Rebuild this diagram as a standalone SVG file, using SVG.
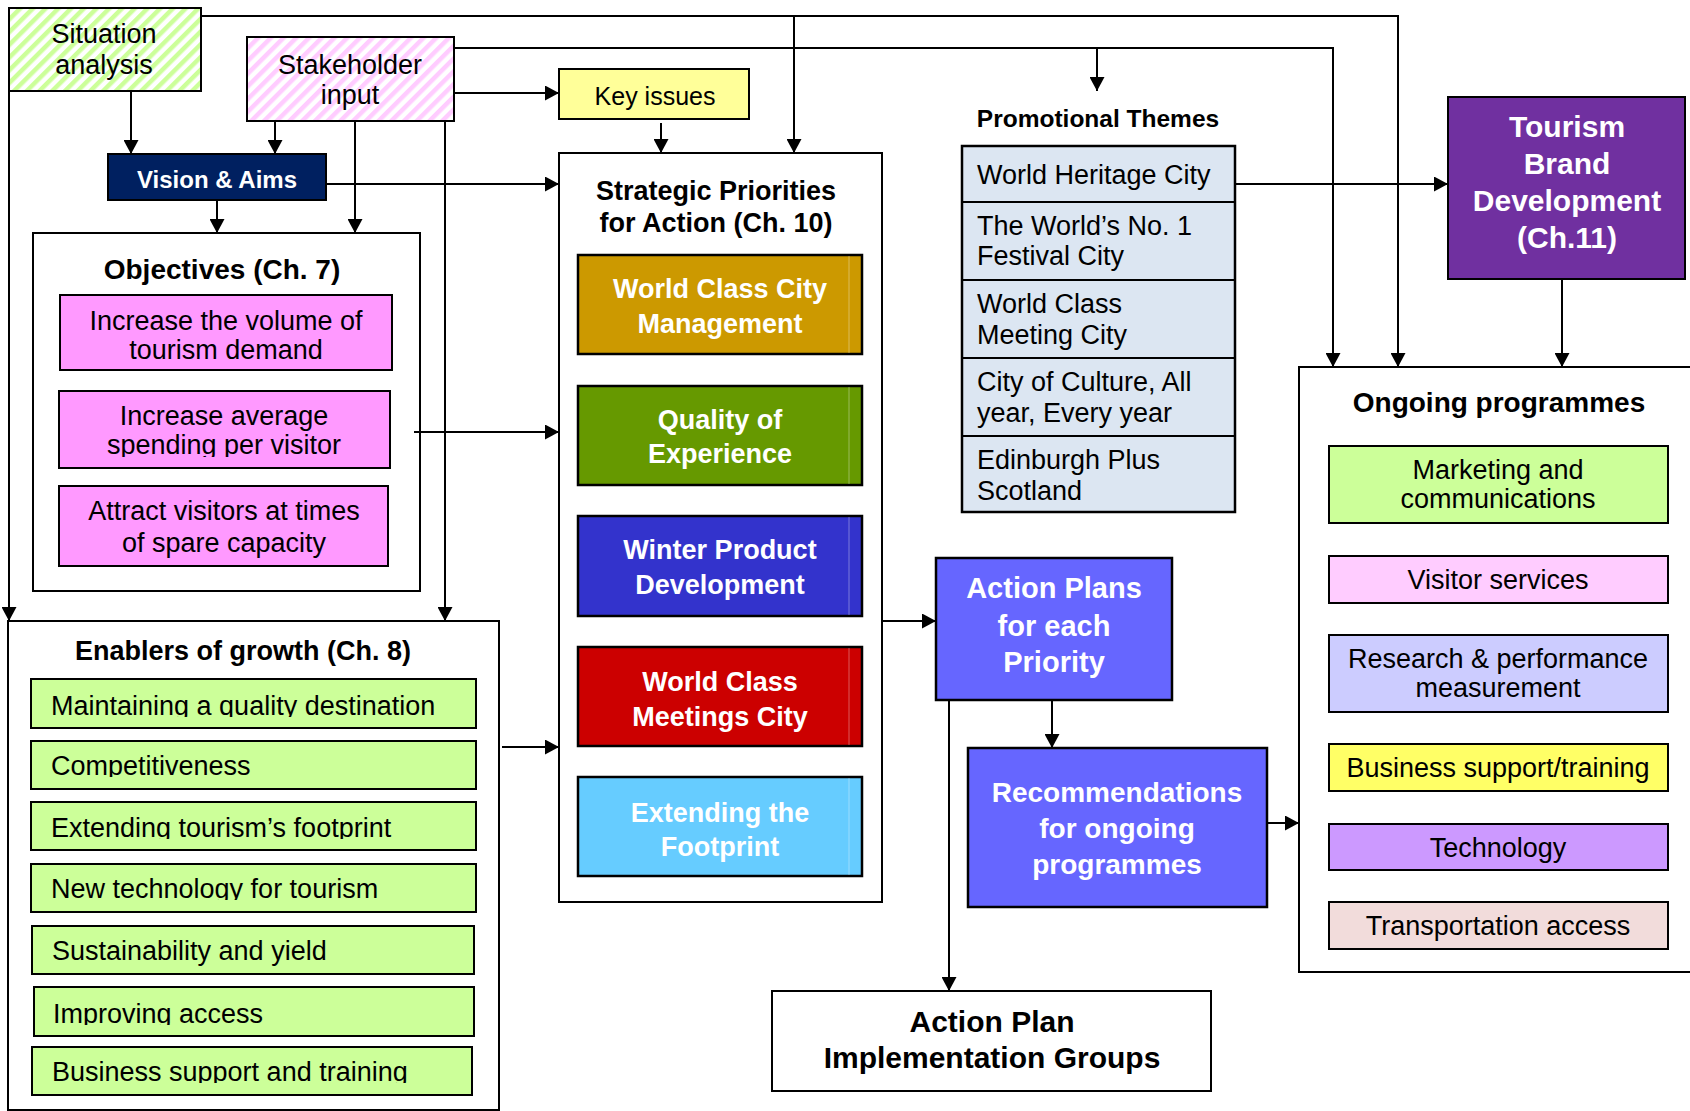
<svg xmlns="http://www.w3.org/2000/svg" width="1690" height="1111" viewBox="0 0 1690 1111">
<style>
.box{fill:#fff;stroke:#000;stroke-width:2}
.t{font-family:"Liberation Sans",Arial,sans-serif;font-size:27px;fill:#000}
.b{font-weight:bold}
.w{fill:#fff}
.c{text-anchor:middle}
.sp{stroke:#000;stroke-width:2.5}
.hl{stroke:#fff;stroke-opacity:0.35;stroke-width:1}
#connectors path{fill:none;stroke:#000;stroke-width:2}
</style>
<defs>
<marker id="ah" markerUnits="userSpaceOnUse" markerWidth="15" markerHeight="15" refX="14" refY="7.5" orient="auto">
<path d="M0,0 L14,7.5 L0,15 z" fill="#000"/>
</marker>
<pattern id="hg" width="9" height="9" patternUnits="userSpaceOnUse" patternTransform="rotate(45)">
<rect width="9" height="9" fill="#fff"/><rect width="4.5" height="9" fill="#CCFF99"/>
</pattern>
<pattern id="hp" width="9" height="9" patternUnits="userSpaceOnUse" patternTransform="rotate(45)">
<rect width="9" height="9" fill="#fff"/><rect width="4.5" height="9" fill="#FFCCFF"/>
</pattern>
<clipPath id="c1"><rect x="0" y="0" width="1690" height="360"/></clipPath>
<clipPath id="c2"><rect x="0" y="0" width="1690" height="457"/></clipPath>
<clipPath id="e1"><rect x="0" y="0" width="1690" height="717"/></clipPath>
<clipPath id="e2"><rect x="0" y="0" width="1690" height="777"/></clipPath>
<clipPath id="e3"><rect x="0" y="0" width="1690" height="839"/></clipPath>
<clipPath id="e4"><rect x="0" y="0" width="1690" height="900"/></clipPath>
<clipPath id="e6"><rect x="0" y="0" width="1690" height="1025"/></clipPath>
<clipPath id="e7"><rect x="0" y="0" width="1690" height="1083"/></clipPath>
</defs>
<rect width="1690" height="1111" fill="#fff"/>

<g id="situation">
<rect x="9" y="8" width="192" height="83" fill="url(#hg)" stroke="#000" stroke-width="2"/>
<text class="t c" x="104" y="43">Situation</text>
<text class="t c" x="104" y="74">analysis</text>
</g>

<g id="stakeholder">
<rect x="247" y="37" width="207" height="84" fill="url(#hp)" stroke="#000" stroke-width="2"/>
<text class="t c" x="350" y="74">Stakeholder</text>
<text class="t c" x="350" y="104">input</text>
</g>

<g id="key-issues">
<rect x="559" y="69" width="190" height="50" fill="#FFFF99" stroke="#000" stroke-width="2"/>
<text class="t c" x="655" y="105" style="font-size:25px">Key issues</text>
</g>

<g id="vision">
<rect x="108" y="154" width="218" height="46" fill="#002060" stroke="#000" stroke-width="2"/>
<text class="t b w c" x="217" y="188" style="font-size:24px">Vision &amp; Aims</text>
</g>

<g id="objectives">
<rect class="box" x="33" y="233" width="387" height="358"/>
<text class="t b c" x="222" y="279" style="font-size:28px">Objectives (Ch. 7)</text>
<rect x="60" y="295" width="332" height="75" fill="#FF99FF" stroke="#000" stroke-width="2"/>
<text class="t c" x="226" y="330">Increase the volume of</text>
<text class="t c" x="226" y="359" clip-path="url(#c1)">tourism demand</text>
<rect x="59" y="391" width="331" height="77" fill="#FF99FF" stroke="#000" stroke-width="2"/>
<text class="t c" x="224" y="425">Increase average</text>
<text class="t c" x="224" y="454" clip-path="url(#c2)">spending per visitor</text>
<rect x="59" y="486" width="329" height="80" fill="#FF99FF" stroke="#000" stroke-width="2"/>
<text class="t c" x="224" y="520">Attract visitors at times</text>
<text class="t c" x="224" y="552">of spare capacity</text>
</g>

<g id="enablers">
<rect class="box" x="8" y="621" width="491" height="489"/>
<text class="t b c" x="243" y="660">Enablers of growth (Ch. 8)</text>
<rect x="31" y="679" width="445" height="49" fill="#CCFF99" stroke="#000" stroke-width="2"/>
<text class="t" x="51" y="715" clip-path="url(#e1)">Maintaining a quality destination</text>
<rect x="31" y="741" width="445" height="48" fill="#CCFF99" stroke="#000" stroke-width="2"/>
<text class="t" x="51" y="775" clip-path="url(#e2)">Competitiveness</text>
<rect x="31" y="802" width="445" height="48" fill="#CCFF99" stroke="#000" stroke-width="2"/>
<text class="t" x="51" y="837" clip-path="url(#e3)">Extending tourism’s footprint</text>
<rect x="31" y="864" width="445" height="48" fill="#CCFF99" stroke="#000" stroke-width="2"/>
<text class="t" x="51" y="898" clip-path="url(#e4)">New technology for tourism</text>
<rect x="32" y="926" width="442" height="48" fill="#CCFF99" stroke="#000" stroke-width="2"/>
<text class="t" x="52" y="960">Sustainability and yield</text>
<rect x="34" y="987" width="440" height="49" fill="#CCFF99" stroke="#000" stroke-width="2"/>
<text class="t" x="53" y="1023" clip-path="url(#e6)">Improving access</text>
<rect x="32" y="1047" width="440" height="48" fill="#CCFF99" stroke="#000" stroke-width="2"/>
<text class="t" x="52" y="1081" clip-path="url(#e7)">Business support and training</text>
</g>

<g id="strategic">
<rect class="box" x="559" y="153" width="323" height="749"/>
<text class="t b c" x="716" y="200">Strategic Priorities</text>
<text class="t b c" x="716" y="232">for Action (Ch. 10)</text>
<rect class="sp" x="578" y="255" width="284" height="99" fill="#CC9900"/>
<line class="hl" x1="849" y1="256" x2="849" y2="353"/>
<text class="t b w c" x="720" y="298">World Class City</text>
<text class="t b w c" x="720" y="333">Management</text>
<rect class="sp" x="578" y="386" width="284" height="99" fill="#669900"/>
<line class="hl" x1="849" y1="387" x2="849" y2="484"/>
<text class="t b w c" x="720" y="429">Quality of</text>
<text class="t b w c" x="720" y="463">Experience</text>
<rect class="sp" x="578" y="516" width="284" height="100" fill="#3333CC"/>
<line class="hl" x1="849" y1="517" x2="849" y2="615"/>
<text class="t b w c" x="720" y="559">Winter Product</text>
<text class="t b w c" x="720" y="594">Development</text>
<rect class="sp" x="578" y="647" width="284" height="99" fill="#CC0000"/>
<line class="hl" x1="849" y1="648" x2="849" y2="745"/>
<text class="t b w c" x="720" y="691">World Class</text>
<text class="t b w c" x="720" y="726">Meetings City</text>
<rect class="sp" x="578" y="777" width="284" height="99" fill="#66CCFF"/>
<line class="hl" x1="849" y1="778" x2="849" y2="875"/>
<text class="t b w c" x="720" y="822">Extending the</text>
<text class="t b w c" x="720" y="856">Footprint</text>
</g>

<g id="promotional">
<text class="t b c" x="1098" y="127" style="font-size:24.5px">Promotional Themes</text>
<rect x="962" y="146" width="273" height="366" fill="#DCE6F2" stroke="#000" stroke-width="2.5"/>
<path d="M962,202 H1235 M962,280 H1235 M962,358 H1235 M962,436 H1235" stroke="#000" stroke-width="2"/>
<text class="t" x="977" y="184">World Heritage City</text>
<text class="t" x="977" y="235">The World’s No. 1</text>
<text class="t" x="977" y="265">Festival City</text>
<text class="t" x="977" y="313">World Class</text>
<text class="t" x="977" y="344">Meeting City</text>
<text class="t" x="977" y="391">City of Culture, All</text>
<text class="t" x="977" y="422">year, Every year</text>
<text class="t" x="977" y="469">Edinburgh Plus</text>
<text class="t" x="977" y="500">Scotland</text>
</g>

<g id="tourism-brand">
<rect x="1448" y="97" width="237" height="182" fill="#7030A0" stroke="#000" stroke-width="2"/>
<text class="t b w c" x="1567" y="137" style="font-size:30px">Tourism</text>
<text class="t b w c" x="1567" y="174" style="font-size:30px">Brand</text>
<text class="t b w c" x="1567" y="211" style="font-size:30px">Development</text>
<text class="t b w c" x="1567" y="248" style="font-size:30px">(Ch.11)</text>
</g>

<g id="action-plans">
<rect x="936" y="558" width="236" height="142" fill="#6666FF" stroke="#000" stroke-width="2.5"/>
<text class="t b w c" x="1054" y="598" style="font-size:29px">Action Plans</text>
<text class="t b w c" x="1054" y="636" style="font-size:29px">for each</text>
<text class="t b w c" x="1054" y="672" style="font-size:29px">Priority</text>
</g>

<g id="recommendations">
<rect x="968" y="748" width="299" height="159" fill="#6666FF" stroke="#000" stroke-width="2.5"/>
<text class="t b w c" x="1117" y="802" style="font-size:28px">Recommendations</text>
<text class="t b w c" x="1117" y="838" style="font-size:28px">for ongoing</text>
<text class="t b w c" x="1117" y="874" style="font-size:28px">programmes</text>
</g>

<g id="implementation">
<rect class="box" x="772" y="991" width="439" height="100"/>
<text class="t b c" x="992" y="1032" style="font-size:30px">Action Plan</text>
<text class="t b c" x="992" y="1068" style="font-size:30px">Implementation Groups</text>
</g>

<g id="ongoing">
<rect class="box" x="1299" y="367" width="420" height="605"/>
<text class="t b c" x="1499" y="412" style="font-size:28px">Ongoing programmes</text>
<rect x="1329" y="446" width="339" height="77" fill="#CCFF99" stroke="#000" stroke-width="2"/>
<text class="t c" x="1498" y="479">Marketing and</text>
<text class="t c" x="1498" y="508">communications</text>
<rect x="1329" y="556" width="339" height="47" fill="#FFCCFF" stroke="#000" stroke-width="2"/>
<text class="t c" x="1498" y="589">Visitor services</text>
<rect x="1329" y="635" width="339" height="77" fill="#CCCCFF" stroke="#000" stroke-width="2"/>
<text class="t c" x="1498" y="668">Research &amp; performance</text>
<text class="t c" x="1498" y="697">measurement</text>
<rect x="1329" y="744" width="339" height="47" fill="#FFFF66" stroke="#000" stroke-width="2"/>
<text class="t c" x="1498" y="777">Business support/training</text>
<rect x="1329" y="824" width="339" height="46" fill="#CC99FF" stroke="#000" stroke-width="2"/>
<text class="t c" x="1498" y="857">Technology</text>
<rect x="1329" y="902" width="339" height="47" fill="#F2DCDB" stroke="#000" stroke-width="2"/>
<text class="t c" x="1498" y="935">Transportation access</text>
</g>

<g id="connectors">
<path d="M201,16 H1398 V367" marker-end="url(#ah)"/>
<path d="M794,16 V153" marker-end="url(#ah)"/>
<path d="M9,91 V621" marker-end="url(#ah)"/>
<path d="M131,91 V154" marker-end="url(#ah)"/>
<path d="M454,48 H1333 V367" marker-end="url(#ah)"/>
<path d="M1097,48 V91" marker-end="url(#ah)"/>
<path d="M454,93 H559" marker-end="url(#ah)"/>
<path d="M275,121 V154" marker-end="url(#ah)"/>
<path d="M355,121 V233" marker-end="url(#ah)"/>
<path d="M445,121 V621" marker-end="url(#ah)"/>
<path d="M661,123 V153" marker-end="url(#ah)"/>
<path d="M326,184 H559" marker-end="url(#ah)"/>
<path d="M217,200 V233" marker-end="url(#ah)"/>
<path d="M414,432 H559" marker-end="url(#ah)"/>
<path d="M502,747 H559" marker-end="url(#ah)"/>
<path d="M882,621 H936" marker-end="url(#ah)"/>
<path d="M1052,700 V748" marker-end="url(#ah)"/>
<path d="M949,700 V991" marker-end="url(#ah)"/>
<path d="M1267,823 H1299" marker-end="url(#ah)"/>
<path d="M1235,184 H1448" marker-end="url(#ah)"/>
<path d="M1562,279 V367" marker-end="url(#ah)"/>
</g>
</svg>
